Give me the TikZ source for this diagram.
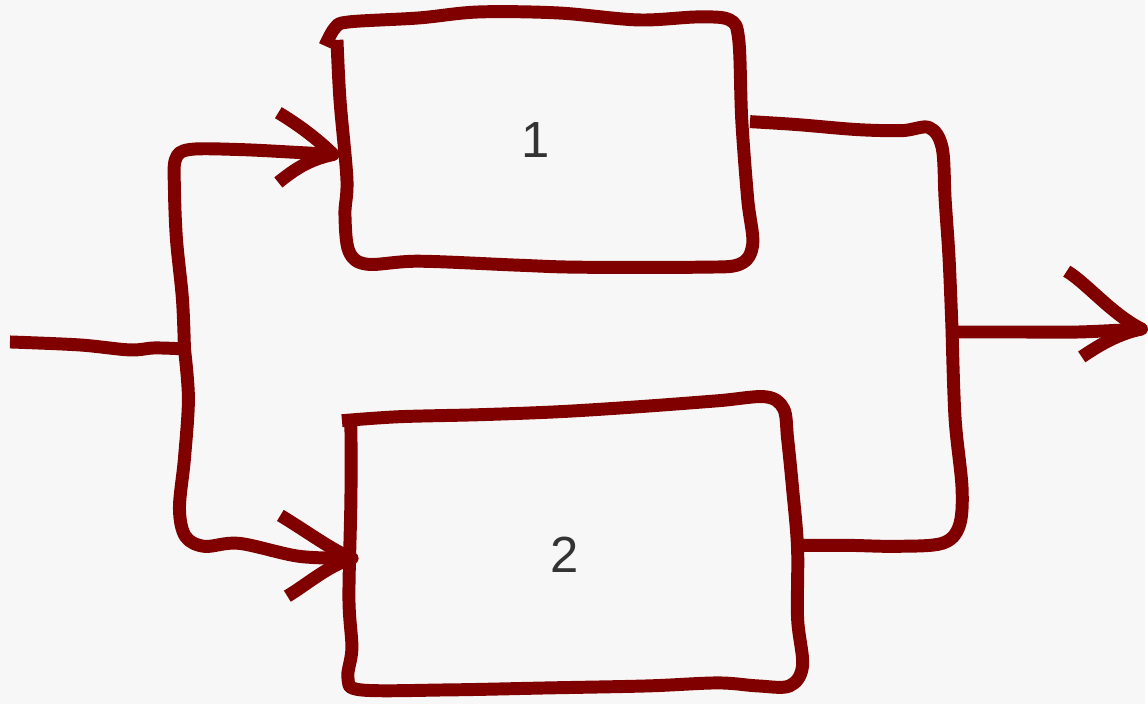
\documentclass[tikz,border=0pt]{standalone}
\usepackage{fontspec}
\setmainfont{Liberation Sans}
\usepackage{xcolor}
\usepackage{tikz}

\definecolor{pen}{HTML}{800000}
\definecolor{paper}{HTML}{F7F7F7}
\definecolor{ink}{HTML}{333333}

\begin{document}
\begin{tikzpicture}[
    x=0.02cm, y=-0.02cm,
    wire/.style={draw=pen, line width=0.26cm, line join=round},
    block/.style={rectangle, inner sep=0pt, text=ink, font=\fontsize{29}{32}\selectfont},
    smoothline/.style={smooth, tension=0.55}
]
% paper
\fill[paper] (0,0) rectangle (1148,706);

% the two blocks (outline drawn by hand below)
\node[block, minimum width=8.3cm, minimum height=5cm] (box1) at (537,140) {1};
\node[block, minimum width=9cm, minimum height=5.4cm] (box2) at (566,556) {2};

\coordinate (in) at (10,343);
\coordinate (split) at (185,350);
\coordinate (merge) at (955,333);
\coordinate (out) at (1145,330);
\coordinate (tip1) at ([shift={(0.1cm,-0.3cm)}]box1.west);
\coordinate (tip2) at ([shift={(0.25cm,-0.08cm)}]box2.west);
\coordinate (exit1) at ([shift={(0.15cm,0.36cm)}]box1.east);
\coordinate (exit2) at ([shift={(0.25cm,0.18cm)}]box2.east);

% outlines
\draw[wire] plot[smoothline] coordinates {(326,46) (336,28) (350,22) (420,18) (480,12)
    (560,13) (640,20) (700,17) (732,20) (741,40) (744,120) (750,200) (755,245)
    (742,265) (700,268) (580,268) (520,266) (420,262) (368,265) (350,252)
    (346,215) (348,180) (341,100) (338,40)};
\draw[wire] plot[smoothline] coordinates {(343,422) (400,418) (480,416) (560,413)
    (640,408) (720,402) (768,398) (786,410) (790,440) (795,490) (800,550)
    (800,620) (805,668) (792,688) (760,688) (720,685) (650,688) (550,690)
    (450,692) (362,692) (349,680) (353,650) (350,600) (352,500) (352,425)};

% feed and split
\draw[wire] plot[smoothline] coordinates {(in) (80,346) (130,351) (155,349) (split)};
\draw[wire] plot[smoothline] coordinates {(split) (183,300) (177,240)
    (175,190) (176,160) (190,150) (240,150) (300,153) (tip1)};
\draw[wire] plot[smoothline] coordinates {(split) (189,400) (185,460)
    (180,510) (186,538) (205,548) (240,545) (300,558) (tip2)};

% merge and output
\draw[wire] plot[smoothline] coordinates {(exit1) (800,125) (860,130)
    (905,131) (932,128) (945,148) (948,200) (952,260) (merge)};
\draw[wire] plot[smoothline] coordinates {(exit2) (850,547) (900,548)
    (945,545) (962,528) (965,490) (958,420) (merge)};
\draw[wire] plot[smoothline] coordinates {(merge) (1020,333) (1082,333) (out)};

% arrow heads
\draw[wire] (tip1) ++(-55,-42) .. controls +(20,12) and +(-15,-15) .. (tip1)
    .. controls +(-25,5) and +(15,-12) .. ++(-55,28);
\draw[wire] (tip2) ++(-72,-43) .. controls +(25,15) and +(-20,-8) .. (tip2)
    .. controls +(-25,8) and +(20,-12) .. ++(-65,38);
\draw[wire] (out) ++(-75,-58) .. controls +(20,12) and +(-30,-15) .. (out)
    .. controls +(-25,5) and +(15,-10) .. ++(-60,28);
\end{tikzpicture}
\end{document}
